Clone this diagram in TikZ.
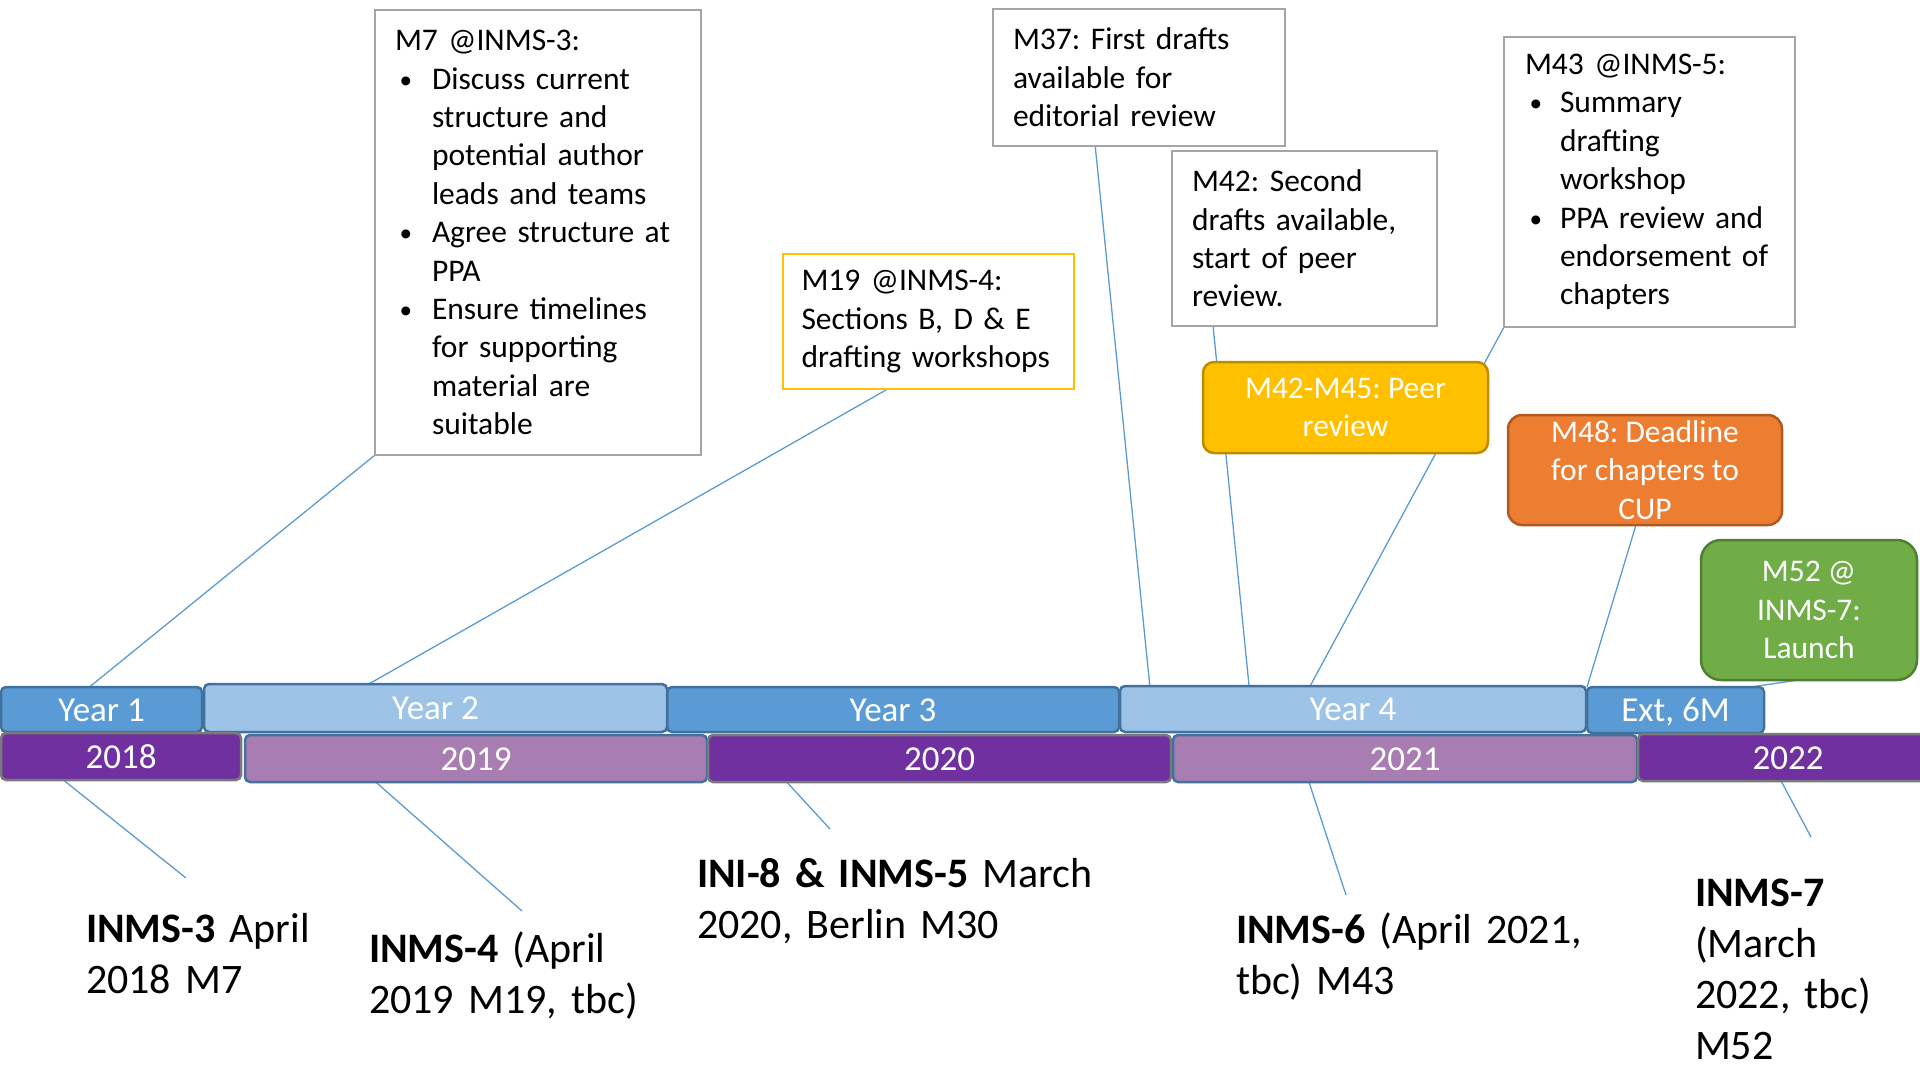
\documentclass[tikz,border=0pt]{standalone}
\usepackage{fontspec}
\setmainfont{Carlito}
\usetikzlibrary{calc}
\pgfdeclarelayer{background}
\pgfsetlayers{background,main}

\definecolor{yrblue}{HTML}{5B9BD5}
\definecolor{yrlight}{HTML}{9DC3E6}
\definecolor{yredge}{HTML}{41719C}
\definecolor{calpurple}{HTML}{7030A0}
\definecolor{callight}{HTML}{A87DB2}
\definecolor{caledge}{HTML}{7A7A7A}
\definecolor{boxgray}{HTML}{A5A5A5}
\definecolor{gold}{HTML}{FFC000}
\definecolor{goldedge}{HTML}{BC8C00}
\definecolor{orangefill}{HTML}{ED7D31}
\definecolor{orangeedge}{HTML}{AE5A21}
\definecolor{greenfill}{HTML}{70AD47}
\definecolor{greenedge}{HTML}{507E32}
\definecolor{linkblue}{HTML}{5B9BD5}

% bullet with hanging indent for the note boxes
\newcommand\blt[1]{\makebox[#1pt][l]{\hspace{4.5pt}\raisebox{1pt}{\scalebox{0.8}{\textbullet}}}}
\newcommand\cont[1]{\hspace*{#1pt}}

\tikzset{
  bar/.style={rounded corners=5pt, line width=2.5pt, anchor=north west,
    inner sep=0pt, outer sep=0pt, text=white, text height=23pt, text depth=0pt,
    font=\fontsize{35}{42}\selectfont},
  yearbar/.style={bar, draw=yredge, fill=yrblue},
  yearbarlt/.style={bar, draw=yredge, fill=yrlight},
  calbar/.style={bar, draw=caledge, fill=calpurple},
  calbarlt/.style={bar, draw=yredge, fill=callight},
  note/.style={draw=boxgray, fill=white, line width=2.5pt, anchor=north west,
    inner sep=0pt, outer sep=0pt, align=left,
    font=\fontsize{31.5}{38.4}\selectfont\frenchspacing},
  tag/.style={rounded corners=#1, line width=2.5pt, anchor=north west,
    inner sep=0pt, outer sep=0pt, align=center, text=white,
    font=\fontsize{31.5}{38.4}\selectfont\frenchspacing},
  meeting/.style={anchor=base west, inner sep=0pt, outer sep=0pt, align=left,
    font=\fontsize{42}{51.3}\selectfont\frenchspacing},
  conn/.style={draw=linkblue, line width=1.3pt}
}

\begin{document}
\begin{tikzpicture}[x=1pt, y=-1pt]
\useasboundingbox (0,0) rectangle (1920,1066);
\clip (0,0) rectangle (1920,1066);

% project years
\node[yearbar, minimum width=201pt, minimum height=45pt] (y1) at (1,687) {Year 1};
\node[yearbar, minimum width=452pt, minimum height=45pt] (y3) at (667,687) {Year 3};
\node[yearbarlt, minimum width=463pt, minimum height=48pt] (y2) at (204,684) {Year 2};
\node[yearbarlt, minimum width=466pt, minimum height=46pt] (y4) at (1120,686) {Year 4};
\node[yearbar, minimum width=177pt, minimum height=46pt] (ext) at (1587,687) {Ext, 6M};

% calendar years
\node[calbar, minimum width=240pt, minimum height=47pt] (c18) at (1,733) {2018};
\node[calbarlt, minimum width=462pt, minimum height=47pt] (c19) at (245,735) {2019};
\node[calbar, minimum width=463pt, minimum height=47pt] (c20) at (708,735) {2020};
\node[calbarlt, minimum width=464pt, minimum height=47pt] (c21) at (1173,735) {2021};
\node[calbar, minimum width=300pt, minimum height=47pt] (c22) at (1638,734) {2022};

% milestone notes
\node[note, minimum width=326pt, minimum height=445pt, text width=286pt] (m7) at (375,10) {%
M7 @INMS-3:\\
\blt{37}Discuss current\\
\cont{37}structure and\\
\cont{37}potential author\\
\cont{37}leads and teams\\
\blt{37}Agree structure at\\
\cont{37}PPA\\
\blt{37}Ensure timelines\\
\cont{37}for supporting\\
\cont{37}material are\\
\cont{37}suitable};

\node[note, draw=gold, minimum width=291pt, minimum height=135pt, text width=254pt] (m19) at (783,254) {%
M19 @INMS-4:\\
Sections B, D \& E\\
drafting workshops};

\node[note, minimum width=292pt, minimum height=137pt, text width=252pt] (m37) at (993,9) {%
M37: First drafts\\
available for\\
editorial review};

\node[note, minimum width=265pt, minimum height=175pt, text width=225pt] (m42) at (1172,151) {%
M42: Second\\
drafts available,\\
start of peer\\
review.};

\node[note, minimum width=291pt, minimum height=290pt, text width=249pt] (m43) at (1504,37) {%
M43 @INMS-5:\\
\blt{35}Summary\\
\cont{35}drafting\\
\cont{35}workshop\\
\blt{35}PPA review and\\
\cont{35}endorsement of\\
\cont{35}chapters};

% coloured milestones
\node[tag=11pt, draw=goldedge, fill=gold, minimum width=285pt, minimum height=91pt] (peer) at (1203,362) {M42-M45: Peer\\review};
\node[tag=14pt, draw=orangeedge, fill=orangefill, minimum width=274pt, minimum height=110pt] (m48) at (1508,415) {M48: Deadline\\for chapters to\\CUP};
\node[tag=20pt, draw=greenedge, fill=greenfill, minimum width=216pt, minimum height=140pt] (m52) at (1701,540) {M52 @\\INMS-7:\\Launch};

% meetings
\node[meeting, text width=260pt] (inms3) at (86,942) {\textbf{INMS-3} April\\2018 M7};
\node[meeting, text width=300pt] (inms4) at (369,962) {\textbf{INMS-4} (April\\2019 M19, tbc)};
\node[meeting, text width=420pt] (ini8) at (697,887) {\textbf{INI-8 \& INMS-5} March\\2020, Berlin M30};
\node[meeting, text width=400pt] (inms6) at (1236,943) {\textbf{INMS-6} (April 2021,\\tbc) M43};
\node[meeting, text width=220pt] (inms7) at (1695,906) {\textbf{INMS-7}\\(March\\2022, tbc)\\M52};

% free ends of the meeting pointers
\coordinate (e3) at (186,878);
\coordinate (e4) at (522,911);
\coordinate (e5) at (830,829);
\coordinate (e6) at (1346,895);
\coordinate (e7) at (1811,837);

\begin{pgfonlayer}{background}
\draw[conn] (m7.south west) -- ($(y1.north west)!0.44!(y1.north east)$);
\draw[conn] ($(m19.south west)!0.36!(m19.south east)$) -- ($(y2.north west)!0.356!(y2.north east)$);
\draw[conn] ($(m37.south west)!0.35!(m37.south east)$) -- ($(y4.north west)!0.064!(y4.north east)$);
\draw[conn] ($(m42.south west)!0.155!(m42.south east)$) -- ($(y4.north west)!0.277!(y4.north east)$);
\draw[conn] (m43.south west) -- ($(y4.north west)!0.408!(y4.north east)$);
\draw[conn] ($(m48.south west)!0.467!(m48.south east)$) -- (ext.north west);
\draw[conn] ($(m52.south west)!0.45!(m52.south east)$) -- ($(ext.north west)!0.85!(ext.north east)+(0,2)$);
\draw[conn] ($(c18.south west)!0.26!(c18.south east)$) -- (e3);
\draw[conn] ($(c19.south west)!0.283!(c19.south east)$) -- (e4);
\draw[conn] ($(c20.south west)!0.17!(c20.south east)$) -- (e5);
\draw[conn] ($(c21.south west)!0.293!(c21.south east)$) -- (e6);
\draw[conn] ($(c22.south west)!0.477!(c22.south east)$) -- (e7);
\end{pgfonlayer}
\end{tikzpicture}
\end{document}
